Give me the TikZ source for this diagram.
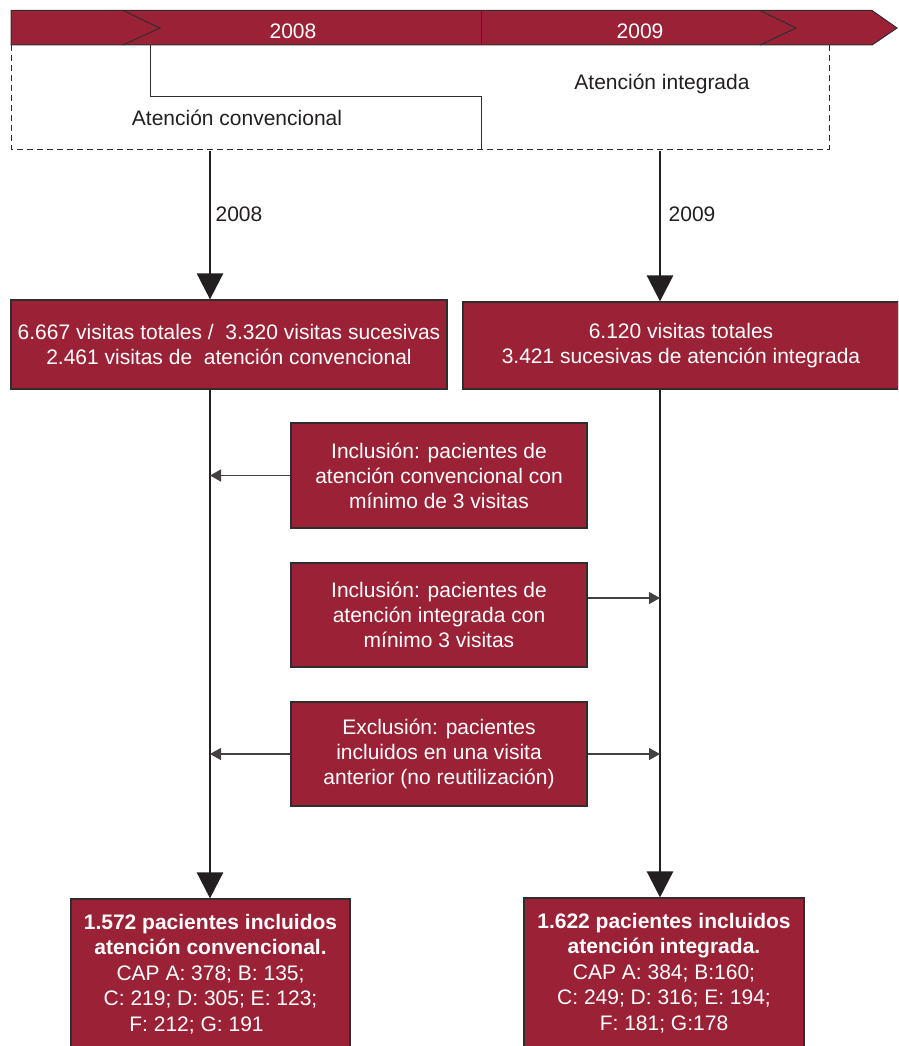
\documentclass[tikz,border=0pt]{standalone}
\usepackage{fontspec}
\setmainfont{Liberation Sans}
\usetikzlibrary{arrows.meta,calc}
\definecolor{maroon}{RGB}{155,34,54}
\definecolor{edgecol}{RGB}{50,45,45}
\definecolor{txtcol}{RGB}{35,31,32}
\begin{document}
\begin{tikzpicture}[x=1pt,y=-1pt,
  box/.style={draw=edgecol, line width=1.2pt, fill=maroon, text=white, align=center, inner sep=0pt, font=\fontsize{21}{25}\selectfont},
  resbox/.style={box, font=\fontsize{21}{25.5}\selectfont},
  lbl/.style={font=\fontsize{21}{25}\selectfont, text=txtcol, inner sep=0pt},
  bannerlbl/.style={font=\fontsize{21}{25}\selectfont, text=white, inner sep=0pt},
  bigarrow/.style={draw=txtcol, line width=2.6pt, -{Triangle[length=26pt,width=26pt]}},
  smallarrow/.style={draw=txtcol!85, line width=1.3pt, -{Triangle[length=11pt,width=12pt]}},
  thinline/.style={draw=edgecol, line width=1pt},
  dashline/.style={draw=edgecol, line width=1pt, dash pattern=on 6pt off 4pt}]
\useasboundingbox (0,0) rectangle (898,1046);
\clip (0,0) rectangle (898,1046);
% banner
\path[fill=maroon, draw=edgecol, line width=1pt] (11,10.5) -- (872,10.5) -- (897,28) -- (872,45) -- (11,45) -- cycle;
\draw[thinline] (123,10.5) -- (160,28) -- (123,45);
\draw[thinline] (760,10.5) -- (796,28) -- (760,45);
\draw[thinline] (481,10.5) -- (481,45);
\node[bannerlbl] (y8) at (293,31) {2008};
\node[bannerlbl] (y9) at (640,31) {2009};
% dashed frame
\draw[dashline] (11,45) -- (11,149) -- (829,149) -- (829,45);
\draw[thinline] (150,45) -- (150,97) -- (481,97) -- (481,149);
\node[lbl] (conv) at (237,118) {Atención convencional};
\node[lbl] (integ) at (662,84) {Atención integrada};
% boxes
\node[box, minimum width=436pt, minimum height=89pt] (b1) at (229,344.5) {6.667 visitas totales /\ \ 3.320 visitas sucesivas\\2.461 visitas de\ \ atención convencional};
\node[box, minimum width=436pt, minimum height=87pt] (b2) at (681,345.5) {6.120 visitas totales\\3.421 sucesivas de atención integrada};
\node[box, minimum width=296pt, minimum height=105pt] (inc1) at (439,475.5) {Inclusión: pacientes de\\atención convencional con\\mínimo de 3 visitas};
\node[box, minimum width=296pt, minimum height=104pt] (inc2) at (439,615) {Inclusión: pacientes de\\atención integrada con\\mínimo 3 visitas};
\node[box, minimum width=296pt, minimum height=104pt] (exc) at (439,754) {Exclusión: pacientes\\incluidos en una visita\\anterior (no reutilización)};
\node[resbox, minimum width=279pt, minimum height=150pt] (r1) at (210.5,974) {\textbf{1.572 pacientes incluidos}\\\textbf{atención convencional.}\\CAP A: 378; B: 135;\\C: 219; D: 305; E: 123;\\F: 212; G: 191\hspace*{28pt}};
\node[resbox, minimum width=280pt, minimum height=150pt] (r2) at (664,973) {\textbf{1.622 pacientes incluidos}\\\textbf{atención integrada.}\\CAP A: 384; B:160;\\C: 249; D: 316; E: 194;\\F: 181; G:178};
% arrows
\coordinate (t1) at (210,151);
\coordinate (t2) at (660,151);
\draw[bigarrow] (t1) -- (t1 |- b1.north);
\draw[bigarrow] (t2) -- (t2 |- b2.north);
\node[lbl] (l8) at (239,214) {2008};
\node[lbl] (l9) at (692,214) {2009};
\draw[bigarrow] (t1 |- b1.south) -- (t1 |- r1.north);
\draw[bigarrow] (t2 |- b2.south) -- (t2 |- r2.north);
\draw[smallarrow] (inc1.west) -- (inc1.west -| t1);
\draw[smallarrow] (inc2.east |- 0,598) -- (t2 |- 0,598);
\draw[smallarrow] (exc.west) -- (exc.west -| t1);
\draw[smallarrow] (exc.east) -- (exc.east -| t2);
\end{tikzpicture}
\end{document}
